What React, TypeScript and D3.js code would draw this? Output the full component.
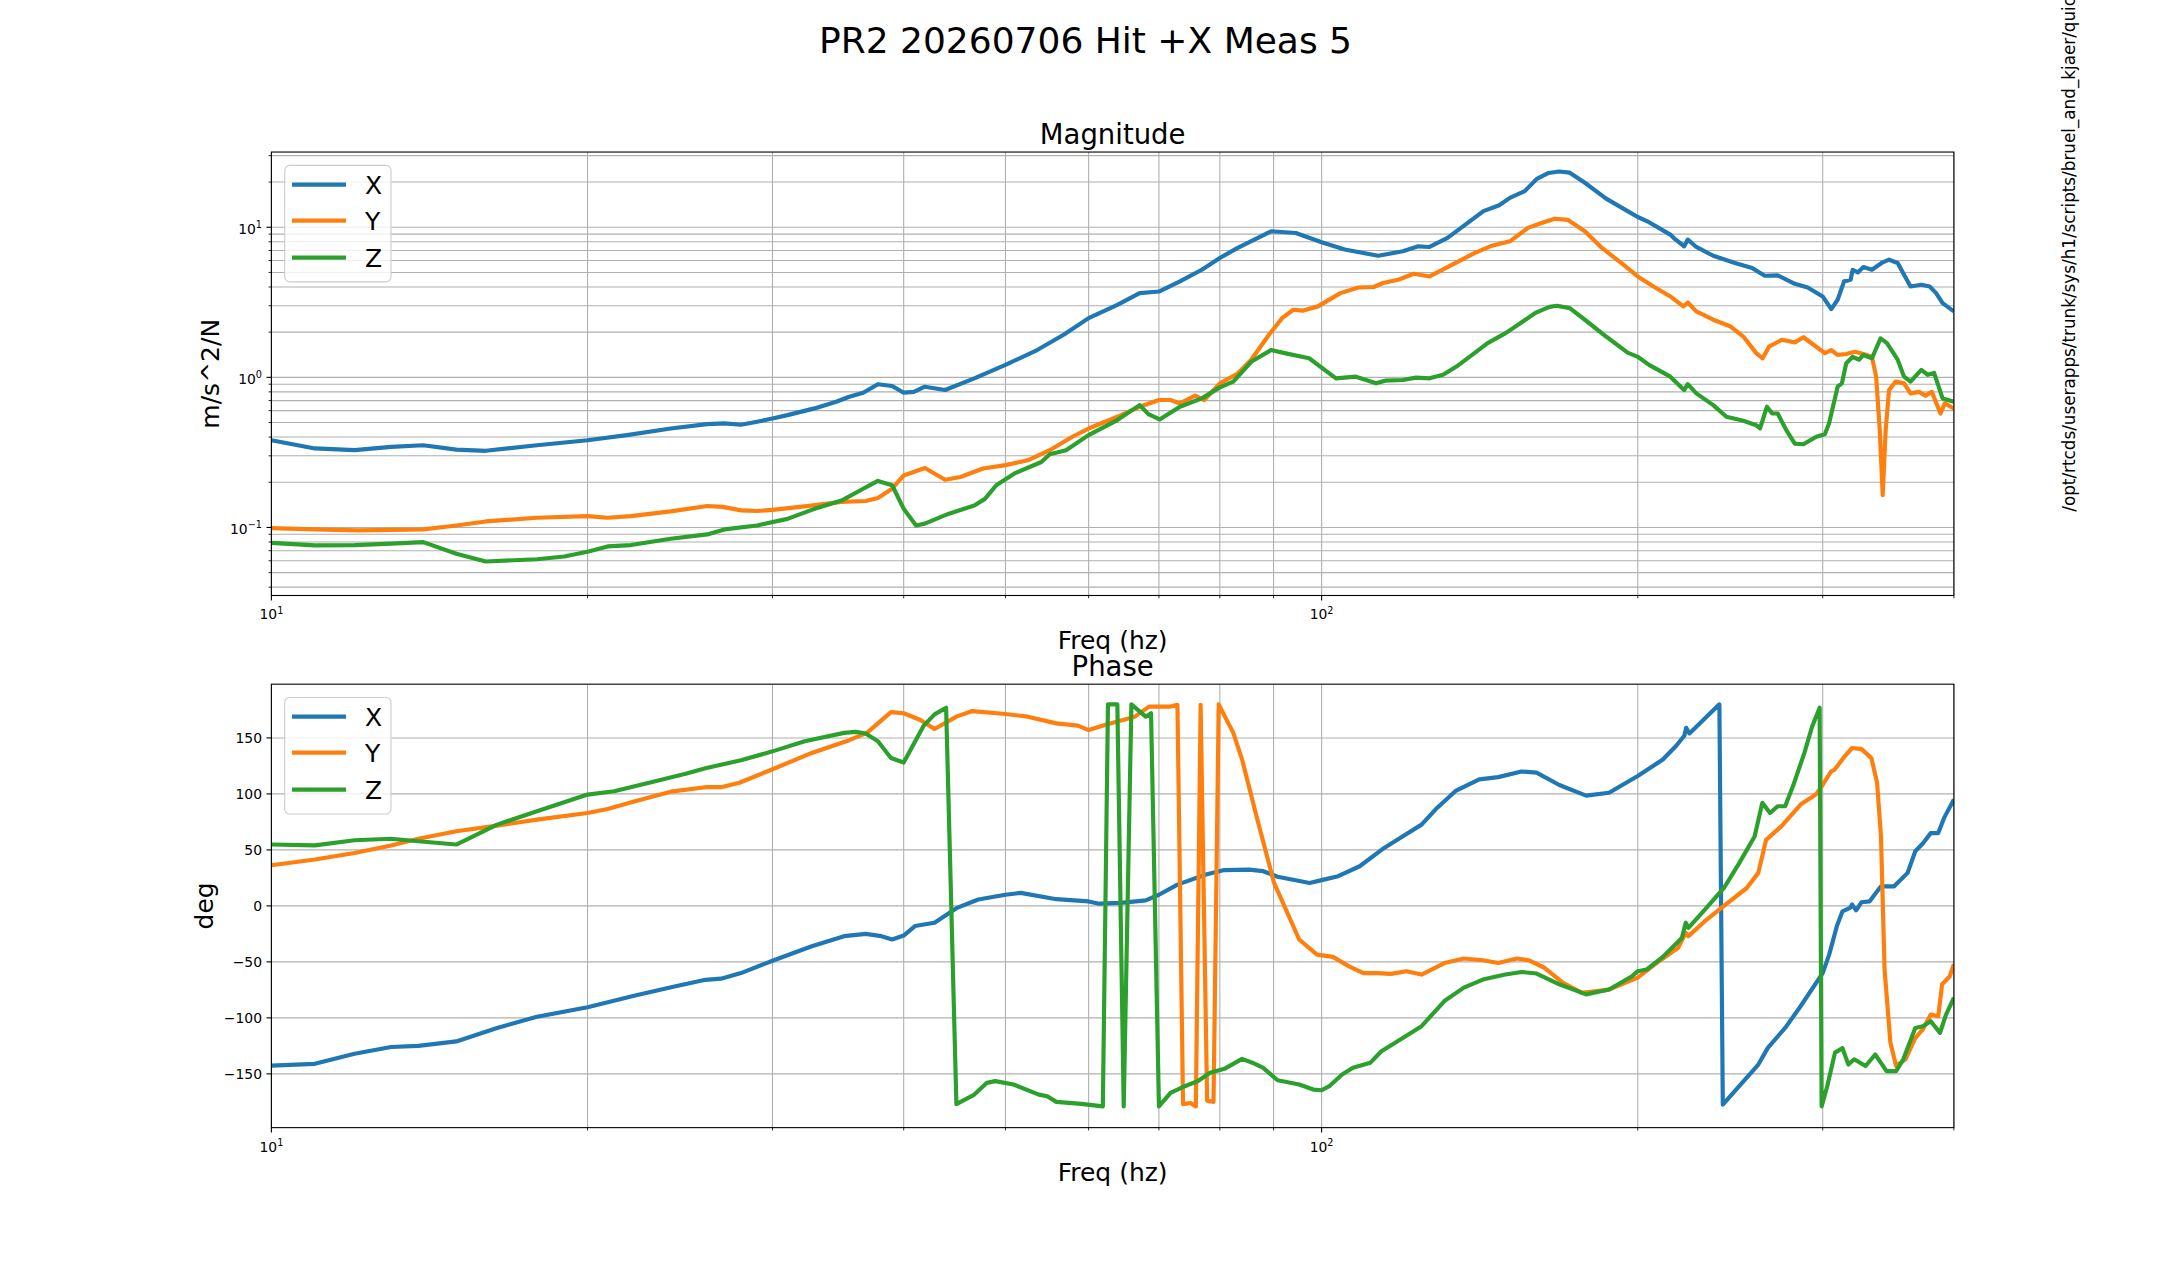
import React, { useEffect, useRef } from 'react';
import * as d3 from 'd3';

type Pt = [number, number];

// frequency (Hz) vs magnitude (m/s^2/N)
const magX: Pt[] = [
  [10, 0.381], [11, 0.336], [12, 0.327], [13, 0.344], [13.95, 0.353], [15, 0.33], [16, 0.324],
  [17.9, 0.353], [20, 0.381], [21.8, 0.412], [24, 0.456], [26, 0.488], [27, 0.493], [28, 0.483],
  [29, 0.506], [30, 0.532], [31, 0.56], [32.9, 0.621], [34.5, 0.688], [35.5, 0.743], [36.6, 0.79],
  [37.8, 0.9], [39, 0.875], [40, 0.79], [40.9, 0.8], [41.9, 0.866], [43.8, 0.823], [46.7, 0.985],
  [50, 1.21], [53.6, 1.52], [56.8, 1.92], [60, 2.48], [63.9, 3.04], [67.1, 3.64], [70, 3.73],
  [73.3, 4.36], [76.9, 5.21], [80, 6.24], [83.2, 7.28], [89.5, 9.4], [94.5, 9.16], [100, 7.94],
  [105.2, 7.1], [113.2, 6.46], [119.5, 6.92], [123.6, 7.46], [126.7, 7.39], [131.8, 8.49],
  [142.6, 12.8], [147.6, 14.0], [151.1, 15.7], [156.1, 17.4], [160.3, 21.0], [164.5, 23.0],
  [168.3, 23.5], [172.3, 23.1], [178.1, 19.8], [186.6, 15.5], [195.6, 12.8], [200, 11.7],
  [205, 10.8], [214.8, 8.93], [216.9, 8.36], [221.4, 7.47], [223.2, 8.27], [227.4, 7.39],
  [236, 6.46], [247.5, 5.78], [257, 5.35], [264.2, 4.75], [271.8, 4.78], [282.2, 4.2],
  [290.3, 3.97], [300, 3.46], [305.7, 2.85], [310, 3.29], [314.4, 4.36], [318.9, 4.47],
  [320.4, 5.21], [324, 5.0], [328, 5.43], [334.2, 5.21], [342.2, 5.84], [347, 6.08],
  [353.6, 5.78], [363.7, 4.03], [372.4, 4.14], [379.3, 4.03], [384.7, 3.64], [390.2, 3.12],
  [400, 2.75],
];

const magY: Pt[] = [
  [10, 0.099], [11, 0.097], [12.1, 0.0955], [13.95, 0.097], [15, 0.103], [16, 0.1096],
  [17.9, 0.116], [20, 0.119], [20.9, 0.116], [22, 0.119], [24, 0.128], [26, 0.139], [26.9, 0.137],
  [28, 0.13], [29, 0.1286], [30, 0.131], [32.2, 0.138], [34.9, 0.148], [36.8, 0.15], [37.8, 0.157],
  [39, 0.181], [40, 0.222], [41.9, 0.249], [43.8, 0.208], [45.3, 0.217], [47.6, 0.247], [50, 0.26],
  [52.5, 0.28], [55.1, 0.327], [57.9, 0.402], [60, 0.456], [63.9, 0.546], [67.1, 0.637], [70, 0.706],
  [71.8, 0.706], [73.3, 0.67], [75.8, 0.755], [77.3, 0.706], [80, 0.912], [83.2, 1.06], [85.7, 1.31],
  [89.1, 1.92], [91.7, 2.48], [94, 2.82], [95.9, 2.78], [99.2, 2.97], [104.2, 3.64], [108.4, 3.97],
  [112.1, 4.0], [114.4, 4.25], [118.3, 4.47], [122.4, 4.9], [126.7, 4.7], [131.8, 5.43],
  [139.8, 6.73], [145.3, 7.54], [151.1, 8.06], [157.2, 9.9], [162.2, 10.7], [166.7, 11.4],
  [171.5, 11.2], [178.1, 9.4], [184.9, 7.28], [193.8, 5.63], [200, 4.7], [207, 4.03], [214.8, 3.46],
  [221, 2.97], [223.2, 3.15], [227.4, 2.75], [236, 2.42], [245.2, 2.18], [252.1, 1.87], [259.3, 1.45],
  [263, 1.34], [266.7, 1.6], [274.3, 1.78], [282.2, 1.71], [287.6, 1.85], [295.8, 1.6], [301.4, 1.45],
  [305.7, 1.52], [310, 1.41], [315.9, 1.43], [322, 1.48], [328, 1.43], [334.2, 1.37], [337.3, 1.01],
  [340, 0.445], [342.2, 0.164], [344.4, 0.445], [347, 0.823], [352, 0.936], [358.6, 0.912],
  [363.7, 0.782], [370.6, 0.8], [375.8, 0.755], [381.1, 0.8], [388.4, 0.574], [392.1, 0.67],
  [400, 0.62],
];

const magZ: Pt[] = [
  [10, 0.079], [11, 0.0759], [12, 0.0763], [13, 0.078], [13.95, 0.0798], [15, 0.0667], [16, 0.0593],
  [17.9, 0.0614], [19, 0.064], [20, 0.0688], [20.9, 0.0747], [22, 0.0763], [24, 0.084], [26, 0.0898],
  [27, 0.097], [29, 0.103], [31, 0.114], [32.9, 0.133], [34.9, 0.151], [36.6, 0.181], [37.8, 0.204],
  [39, 0.191], [40, 0.133], [41.1, 0.103], [41.9, 0.106], [44.1, 0.123], [46.7, 0.14], [47.8, 0.155],
  [49, 0.191], [51, 0.229], [54.1, 0.273], [55.1, 0.307], [57.1, 0.327], [60, 0.412], [63.9, 0.519],
  [67.1, 0.653], [68.4, 0.569], [70.1, 0.524], [73.3, 0.637], [76.9, 0.724], [80, 0.857], [82.4, 0.936],
  [85.7, 1.27], [89.5, 1.52], [92.2, 1.45], [97.3, 1.34], [103.2, 0.985], [107.8, 1.01], [112.7, 0.912],
  [114.9, 0.95], [119.5, 0.96], [123, 0.995], [126.7, 0.985], [130.5, 1.04], [134.4, 1.18],
  [139.8, 1.45], [143.9, 1.69], [149.7, 1.97], [154.7, 2.3], [160, 2.7], [164.8, 2.95], [167.5, 3.0],
  [172.3, 2.89], [178.1, 2.42], [186.6, 1.87], [195.6, 1.46], [200, 1.37], [205, 1.21], [214.8, 1.01],
  [221.4, 0.823], [223.2, 0.9], [227.4, 0.782], [236, 0.653], [242.9, 0.546], [252.1, 0.513],
  [259.3, 0.48], [261.5, 0.457], [265.5, 0.637], [268.5, 0.574], [271.8, 0.574], [277, 0.445],
  [282.2, 0.362], [287.6, 0.358], [295.8, 0.402], [301.4, 0.418], [304.2, 0.493], [310, 0.866],
  [312.9, 0.912], [315.9, 1.24], [320.4, 1.37], [325, 1.31], [328, 1.41], [334.2, 1.34],
  [340.6, 1.82], [345.4, 1.69], [353.6, 1.31], [358.6, 1.01], [363.7, 0.936], [372.4, 1.12],
  [377.6, 1.04], [383, 1.07], [390.2, 0.724], [400, 0.688],
];

// frequency (Hz) vs phase (deg)
const phaseX: Pt[] = [
  [10, -142.6], [11, -141], [12, -132], [13, -126], [13.8, -125], [15, -121], [16.4, -109],
  [17.9, -99], [20, -90.5], [22.2, -80], [24.2, -72], [25.9, -66], [26.8, -65], [28, -60], [30, -49],
  [32.7, -36], [35.1, -27], [36.8, -25], [38.1, -27], [39, -30], [40, -26.5], [41, -18], [42.8, -15],
  [44.9, -2], [47.1, 5.7], [50, 10], [51.7, 11.6], [55.9, 6], [60, 4], [61.4, 2], [64.4, 2.7],
  [68, 5], [70, 10], [72.9, 19], [77.6, 28], [80.8, 32], [85.3, 32.4], [88, 31], [90.8, 26],
  [97.4, 20.5], [100, 23], [103.7, 26.5], [108.7, 35.4], [114.8, 52], [119.4, 62], [124.5, 72.6],
  [128.8, 87.5], [134.3, 103], [141.3, 113], [147.3, 115], [155, 120], [160.2, 119], [168.4, 108],
  [178.6, 98.5], [187.8, 101], [200, 116], [211.3, 130.7], [217.6, 143], [221.5, 152], [222.4, 159],
  [224, 154], [239.2, 180], [241, -177.4], [260.5, -141.7], [266, -126.8], [276.3, -109],
  [285.8, -89.6], [300, -60], [304.3, -43.5], [309.5, -18], [313.3, -4.8], [318.5, -1.8], [320, 1.2],
  [322.8, -4], [326.7, 3.3], [332.4, 4], [340.9, 17.5], [350.9, 17.5], [361.4, 29.5], [367.5, 48.8],
  [373.8, 56], [380.2, 65], [386.5, 65], [391.5, 78.6], [400, 95],
];

const phaseY: Pt[] = [
  [10, 36.3], [11, 41.4], [12, 47.3], [13, 54], [13.8, 60], [15, 66.7], [16.4, 71.7], [17.9, 77],
  [20, 83], [20.9, 86.6], [22.2, 93.5], [24, 102], [25.9, 106], [26.8, 106], [27.9, 110], [30, 122],
  [32.7, 136.6], [35.5, 148], [36.9, 154.5], [38.9, 173], [40, 172], [41.5, 166], [42.8, 158],
  [44.9, 169], [46.5, 174], [50, 171.4], [52.5, 169], [55.9, 163], [58.6, 161], [60, 157],
  [62.4, 162], [66.4, 169], [68.5, 178], [71.8, 178], [72.9, 179.5], [73.8, -177], [75, -176],
  [75.9, -179], [76.7, 179.5], [77.8, -174], [78.9, -175], [79.8, 180], [82.4, 154.5], [84, 130.7],
  [86.7, 80], [90.1, 20.5], [95.2, -30], [99, -43.5], [102.5, -45.5], [106.2, -54], [109.6, -60],
  [113, -60], [116.4, -60.7], [120.4, -58.3], [124.5, -61.3], [130.9, -51], [136.6, -47],
  [142.4, -48.5], [147.3, -51], [153.5, -47], [157.4, -48.5], [162.8, -55], [169.8, -68.8],
  [177, -77.7], [187.8, -74.7], [200, -64], [207.8, -52], [218.5, -37.5], [222.2, -24],
  [223.5, -27], [231.7, -13.7], [241.6, 0], [254, 16], [260.5, 29.5], [265, 59], [269.4, 65],
  [274, 71], [285.8, 90.5], [295.5, 99.4], [300, 108], [305.5, 120], [308, 121.7], [314.8, 133.6],
  [320, 141], [326.7, 140], [333.8, 132], [338, 110], [340.9, 62], [343.6, -57], [348, -122],
  [352.4, -143], [359.7, -137], [367.5, -118], [373.8, -110], [380.2, -97], [386.5, -98.5],
  [389.8, -70], [396.3, -63], [400, -52],
];

const phaseZ: Pt[] = [
  [10, 54.8], [11, 54], [12, 58.6], [13, 60], [13.8, 57.7], [15, 54.8], [16.4, 72.6], [17.9, 84.5],
  [20, 99.4], [21.2, 102.4], [23.2, 111.3], [24.8, 118], [25.9, 123], [28, 130], [30, 138],
  [32.2, 147], [35.1, 154.5], [36, 155.4], [36.8, 154], [37.8, 147], [38.9, 132], [40, 128],
  [41.8, 161], [42.8, 171], [43.9, 177], [44.9, -177], [46.7, -168.5], [48, -158], [48.9, -156.5],
  [50.9, -159.5], [53.8, -168.5], [54.8, -170], [55.9, -175], [59.05, -176.8], [61.9, -179],
  [62.6, 180], [63.9, 180], [64.8, -179], [65.9, 180], [68, 169], [68.8, 172], [70, -179],
  [71.8, -167], [74.1, -161], [76.2, -156.5], [78.3, -149], [80.8, -145.5], [84, -136.6],
  [85.9, -140], [88, -144.6], [90.8, -155.7], [95.2, -159.5], [98.2, -164], [100, -164.6],
  [101.7, -161], [104.6, -150.6], [107.1, -144.6], [111.3, -140], [114, -129.8], [117.6, -122],
  [124.5, -107.4], [130.9, -85], [136.6, -73], [142.4, -65.8], [149.6, -61.3], [155, -59],
  [160.2, -60.4], [168.4, -70], [178.6, -79], [187.8, -74.7], [197.5, -62.8], [200, -58.3],
  [204, -56.8], [211.3, -45.5], [220.3, -28.6], [222.2, -15], [223.5, -19.6], [231.7, -3.3],
  [241.6, 16], [249.9, 38.4], [258.4, 62], [262.8, 92], [267.3, 83], [271.8, 89], [276.3, 89],
  [281.1, 107], [288.2, 136.6], [293.1, 160], [298, 177], [299.3, -179], [303, -161], [308.2, -131],
  [313.3, -127], [317.4, -141.7], [321.4, -137], [329.6, -143], [336.6, -132.7], [345.1, -147.6],
  [352.4, -147.6], [358, -137], [367.5, -109], [373.8, -107.4], [380.2, -103], [388, -113.4],
  [393.2, -97], [400, -82],
];

const seriesNames = ['X', 'Y', 'Z'];
const seriesColors = ['#1f77b4', '#ff7f0e', '#2ca02c'];

const freqDomain: [number, number] = [10, 400];
const freqMajor = [10, 100];
const freqMinor = [20, 30, 40, 50, 60, 70, 80, 90, 200, 300, 400];
const magDomain: [number, number] = [0.0352, 31.7];
const magMajor = [0.1, 1, 10];
const magMinor = [0.04, 0.05, 0.06, 0.07, 0.08, 0.09, 0.2, 0.3, 0.4, 0.5, 0.6, 0.7, 0.8, 0.9,
  2, 3, 4, 5, 6, 7, 8, 9, 20, 30];
const phaseDomain: [number, number] = [-198, 198];
const phaseTicks = [-150, -100, -50, 0, 50, 100, 150];

const figTitle = 'PR2 20260706 Hit +X Meas 5';
const sidePath = '/opt/rtcds/userapps/trunk/sys/h1/scripts/bruel_and_kjaer/quick_plot.py';

const W = 2171;
const H = 1267;
const FONT = 'DejaVu Sans, sans-serif';

const App = () => {
  const ref = useRef<SVGSVGElement>(null);

  useEffect(() => {
    if (!ref.current) return;
    const svg = d3.select(ref.current);
    svg.selectAll('*').remove();

    const left = 271.4;
    const right = 1953.9;
    const axH = 443.45;
    const magTop = 152.04;
    const phaseTop = 684.18;

    const x = d3.scaleLog().domain(freqDomain).range([left, right]);

    svg.append('rect').attr('width', W).attr('height', H).attr('fill', 'white');

    // figure title
    svg.append('text')
      .attr('x', W / 2).attr('y', 53)
      .attr('text-anchor', 'middle')
      .style('font-family', FONT).style('font-size', '36px')
      .text(figTitle);

    // script path on the right (runs off the top edge)
    svg.append('text')
      .attr('transform', `translate(2074.5,511.7) rotate(-90)`)
      .style('font-family', FONT).style('font-size', '16.8px')
      .text(sidePath);

    const supLabel = (sel: any, exp: string, small: number) => {
      sel.append('tspan').text('10');
      sel.append('tspan').attr('dy', -5.8).style('font-size', `${small}px`).text(exp);
    };
    const expOf = (v: number) => {
      const e = Math.round(Math.log10(v));
      return e < 0 ? `\u2212${-e}` : `${e}`;
    };

    const drawPanel = (opts: {
      top: number;
      y: any;
      yMajor: number[];
      yMinor: number[];
      logY: boolean;
      title: string;
      ylabel: string;
      ylabelX: number;
      data: Pt[][];
      id: string;
    }) => {
      const { top, y } = opts;
      const bottom = top + axH;
      const g = svg.append('g');

      g.append('clipPath').attr('id', opts.id)
        .append('rect').attr('x', left).attr('y', top).attr('width', right - left).attr('height', axH);

      // grid (major + minor)
      const grid = g.append('g').attr('stroke', '#b0b0b0').attr('stroke-width', 1.1);
      [...freqMajor, ...freqMinor].forEach(f => {
        grid.append('line')
          .attr('x1', x(f)).attr('x2', x(f)).attr('y1', top).attr('y2', bottom);
      });
      [...opts.yMajor, ...opts.yMinor].forEach(v => {
        grid.append('line')
          .attr('x1', left).attr('x2', right).attr('y1', y(v)).attr('y2', y(v));
      });

      // curves
      const line = d3.line<Pt>()
        .x(d => x(d[0]))
        .y(d => y(d[1]));
      opts.data.forEach((s, i) => {
        g.append('path')
          .datum(s)
          .attr('clip-path', `url(#${opts.id})`)
          .attr('d', line)
          .attr('fill', 'none')
          .attr('stroke', seriesColors[i])
          .attr('stroke-width', 4.17)
          .attr('stroke-linejoin', 'round');
      });

      // spines
      g.append('rect')
        .attr('x', left).attr('y', top).attr('width', right - left).attr('height', axH)
        .attr('fill', 'none').attr('stroke', 'black').attr('stroke-width', 1.1);

      // ticks
      const ticks = g.append('g').attr('stroke', 'black');
      freqMajor.forEach(f => {
        ticks.append('line').attr('stroke-width', 1.1)
          .attr('x1', x(f)).attr('x2', x(f)).attr('y1', bottom).attr('y2', bottom + 4.9);
      });
      freqMinor.forEach(f => {
        ticks.append('line').attr('stroke-width', 0.83)
          .attr('x1', x(f)).attr('x2', x(f)).attr('y1', bottom).attr('y2', bottom + 2.8);
      });
      opts.yMajor.forEach(v => {
        ticks.append('line').attr('stroke-width', 1.1)
          .attr('x1', left - 4.9).attr('x2', left).attr('y1', y(v)).attr('y2', y(v));
      });
      opts.yMinor.forEach(v => {
        ticks.append('line').attr('stroke-width', 0.83)
          .attr('x1', left - 2.8).attr('x2', left).attr('y1', y(v)).attr('y2', y(v));
      });

      // tick labels
      freqMajor.forEach(f => {
        const t = g.append('text')
          .attr('x', x(f)).attr('y', bottom + 24)
          .attr('text-anchor', 'middle')
          .style('font-family', FONT).style('font-size', '13.9px');
        supLabel(t, expOf(f), 9.7);
      });
      opts.yMajor.forEach(v => {
        const t = g.append('text')
          .attr('x', 262).attr('y', y(v) + (opts.logY ? 6.5 : 5))
          .attr('text-anchor', 'end')
          .style('font-family', FONT).style('font-size', '13.9px');
        if (opts.logY) supLabel(t, expOf(v), 9.7);
        else t.text(v < 0 ? `\u2212${-v}` : `${v}`);
      });

      // titles and labels
      g.append('text')
        .attr('x', (left + right) / 2).attr('y', top - 8.3)
        .attr('text-anchor', 'middle')
        .style('font-family', FONT).style('font-size', '27.5px')
        .text(opts.title);
      g.append('text')
        .attr('x', (left + right) / 2).attr('y', bottom + 53.5)
        .attr('text-anchor', 'middle')
        .style('font-family', FONT).style('font-size', '25px')
        .text('Freq (hz)');
      g.append('text')
        .attr('transform', `translate(${opts.ylabelX},${top + axH / 2}) rotate(-90)`)
        .attr('text-anchor', 'middle')
        .style('font-family', FONT).style('font-size', '25px')
        .text(opts.ylabel);

      // legend
      const lg = g.append('g');
      lg.append('rect')
        .attr('x', 284.7).attr('y', top + 13.3)
        .attr('width', 106.3).attr('height', 116.5)
        .attr('rx', 5).attr('ry', 5)
        .attr('fill', 'white').attr('fill-opacity', 0.8)
        .attr('stroke', '#cccccc').attr('stroke-width', 1.1);
      const rowY = [32.5, 68.5, 105.5];
      seriesNames.forEach((name, i) => {
        lg.append('line')
          .attr('x1', 292).attr('x2', 346)
          .attr('y1', top + rowY[i]).attr('y2', top + rowY[i])
          .attr('stroke', seriesColors[i]).attr('stroke-width', 4.17);
        lg.append('text')
          .attr('x', 365).attr('y', top + rowY[i] + 9.1)
          .style('font-family', FONT).style('font-size', '25px')
          .text(name);
      });
    };

    drawPanel({
      top: magTop,
      y: d3.scaleLog().domain(magDomain).range([magTop + axH, magTop]),
      yMajor: magMajor,
      yMinor: magMinor,
      logY: true,
      title: 'Magnitude',
      ylabel: 'm/s^2/N',
      ylabelX: 219,
      data: [magX, magY, magZ],
      id: 'clip-mag',
    });

    drawPanel({
      top: phaseTop,
      y: d3.scaleLinear().domain(phaseDomain).range([phaseTop + axH, phaseTop]),
      yMajor: phaseTicks,
      yMinor: [],
      logY: false,
      title: 'Phase',
      ylabel: 'deg',
      ylabelX: 213,
      data: [phaseX, phaseY, phaseZ],
      id: 'clip-phase',
    });
  }, []);

  return (
    <div style={{ position: 'fixed', left: 0, top: 0 }}>
      <svg ref={ref} width={W} height={H} style={{ display: 'block' }} />
    </div>
  );
};

export default App;
